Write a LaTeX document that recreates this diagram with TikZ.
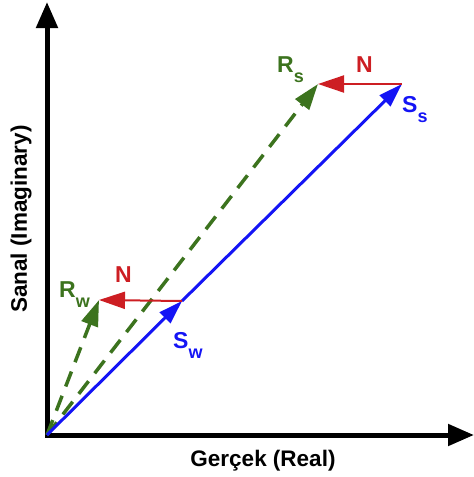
\documentclass[tikz,border=0pt]{standalone}
\usepackage{fontspec}
\setmainfont{Liberation Sans}
\usetikzlibrary{arrows.meta}
\definecolor{vblue}{RGB}{20,20,245}
\definecolor{vred}{RGB}{205,30,35}
\definecolor{vgreen}{RGB}{60,115,30}
\tikzset{
  axisline/.style={line width=5pt,{Triangle[length=26pt,width=21pt]}-{Triangle[length=26pt,width=21pt]}},
  svec/.style={vblue,line width=3pt,-{Triangle[length=24pt,width=15pt]}},
  nvec/.style={vred,line width=2pt,-{Triangle[length=26pt,width=17pt]}},
  rvec/.style={vgreen,line width=3.5pt,dash pattern=on 16pt off 10pt,-{Triangle[length=26pt,width=17pt]}},
  lbl/.style={inner sep=0pt,anchor=base west,font=\bfseries\fontsize{23}{23}\selectfont},
  axlbl/.style={inner sep=0pt,font=\bfseries\fontsize{22.5}{22.5}\selectfont}
}
\newcommand{\subl}[1]{\raisebox{-10pt}{\fontsize{18}{18}\selectfont #1}}
\begin{document}
\begin{tikzpicture}[x=1pt,y=-1pt]
\useasboundingbox (0,0) rectangle (474,477);
\coordinate (O) at (47,435);
\coordinate (Ytip) at (47,2);
\coordinate (Xtip) at (474,435);
\coordinate (Sw) at (182,301);
\coordinate (Ss) at (402,84);
\coordinate (Rw) at (99,300);
\coordinate (Rs) at (318,84);
\draw[axisline] (Ytip) -- (O) -- (Xtip);
\draw[rvec] (O) -- (Rs);
\draw[rvec] (O) -- (Rw);
\draw[svec] (O) -- (Sw);
\draw[svec] (Sw) -- (Ss);
\draw[nvec] (Sw) -- (Rw);
\draw[nvec] (Ss) -- (Rs);
\node[lbl,vgreen] (lRs) at (277,72) {R\subl{s}};
\node[lbl,vred] (lNs) at (356,72) {N};
\node[lbl,vblue] (lSs) at (402,112) {S\subl{s}};
\node[lbl,vred] (lNw) at (115,282) {N};
\node[lbl,vgreen] (lRw) at (59,297) {R\subl{w}};
\node[lbl,vblue] (lSw) at (173,348) {S\subl{w}};
\node[axlbl] (xl) at (263,461) {Gerçek (Real)};
\node[axlbl,rotate=90] (yl) at (21,219) {Sanal (Imaginary)};
\end{tikzpicture}
\end{document}
